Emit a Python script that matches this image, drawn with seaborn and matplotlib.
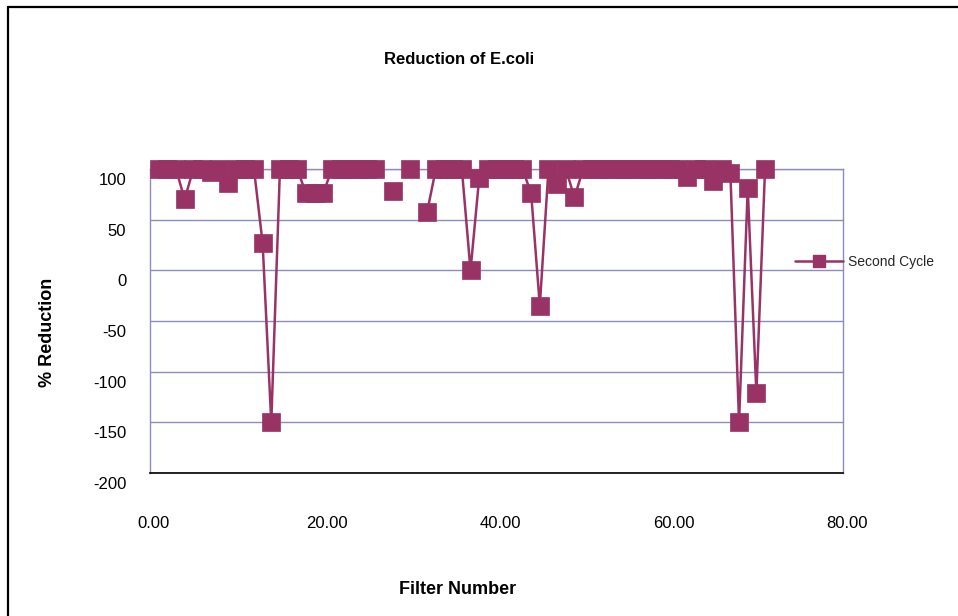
import numpy as np
import pandas as pd
import seaborn as sns
import matplotlib.pyplot as plt
from matplotlib.lines import Line2D
from matplotlib.transforms import ScaledTranslation

# ---- data ----
filter_number = [1, 2, 3, 4, 5, 6, 7, 8, 9, 10,
                 11, 12, 13, 14, 15, 16, 17, 18, 19, 20,
                 21, 22, 23, 24, 25, 26, 27, 28, 29, 30,
                 31, 32, 33, 34, 35, 36, 37, 38, 39, 40,
                 41, 42, 43, 44, 45, 46, 47, 48, 49, 50,
                 51, 52, 53, 54, 55, 56, 57, 58, 59, 60,
                 61, 62, 63, 64, 65, 66, 67, 68, 69, 70,
                 71]
reduction = [100, 100, 100, 70, 100, 100, 97, 100, 86, 100,
             100, 100, 27, -150, 100, 100, 100, 76, 76, 76,
             100, 100, 100, 100, 100, 100, np.nan, 78, np.nan, 100,
             np.nan, 58, 100, 100, 100, 100, 0, 91, 100, 100,
             100, 100, 100, 76, -35, 100, 85, 100, 72, 100,
             100, 100, 100, 100, 100, 100, 100, 100, 100, 100,
             100, 92, 100, 100, 88, 100, 96, -150, 81, -121,
             100]
series_name = "Second Cycle"
x_ticks = [0, 20, 40, 60, 80]
y_ticks = [-200, -150, -100, -50, 0, 50, 100]
title = "Reduction of E.coli"
x_label = "Filter Number"
y_label = "% Reduction"

# ---- style ----
sns.set_theme(style="white")
plt.rcParams['font.family'] = ['Liberation Sans', 'DejaVu Sans']

color = '#993366'
grid_color = '#8c8cc0'

df = pd.DataFrame({'Filter': filter_number, 'Reduction': reduction})
df['seg'] = df['Reduction'].isna().cumsum()
df = df.dropna()

W, H = 958, 616
fig = plt.figure(figsize=(W / 100, H / 100), dpi=100)
fig.patch.set_facecolor('white')
ax = fig.add_axes([150 / W, 1 - 473 / H, 693 / W, 304 / H])

sns.lineplot(data=df, x='Filter', y='Reduction', units='seg', estimator=None,
             color=color, marker='s', markersize=13.3, markeredgecolor=color,
             markeredgewidth=0.5, linewidth=1.8, ax=ax, legend=False,
             clip_on=False, zorder=3)

ax.set_xlim(0, 80)
ax.set_ylim(-200, 100)
ax.set_xticks(x_ticks)
ax.set_xticklabels([f"{t:.2f}" for t in x_ticks])
ax.set_yticks(y_ticks)
ax.set_yticklabels([str(t) for t in y_ticks])
ax.set_xlabel('')
ax.set_ylabel('')
ax.grid(False)
ax.yaxis.grid(True, color=grid_color, linewidth=1.0)
ax.set_axisbelow(True)
for side in ['left', 'top', 'right']:
    ax.spines[side].set_color(grid_color)
    ax.spines[side].set_linewidth(1.0)
ax.spines['bottom'].set_color('black')
ax.spines['bottom'].set_linewidth(1.2)

ax.tick_params(axis='x', length=0, pad=31, labelsize=12, labelcolor='black')
ax.tick_params(axis='y', length=0, pad=17, labelsize=12, labelcolor='black')

# y tick labels sit slightly below their gridlines in the reference
off_y = ScaledTranslation(0, -10 / 100, fig.dpi_scale_trans)
for t in ax.yaxis.get_major_ticks():
    t.label1.set_transform(t.label1.get_transform() + off_y)
off_x = ScaledTranslation(4 / 100, 0, fig.dpi_scale_trans)
for t in ax.xaxis.get_major_ticks():
    t.label1.set_transform(t.label1.get_transform() + off_x)

# titles
fig.text(459 / W, 1 - 60 / H, title, ha='center', va='center',
         fontsize=12, fontweight='bold', color='black')
fig.text(458 / W, 1 - 590 / H, x_label, ha='center', va='center',
         fontsize=13, fontweight='bold', color='black')
fig.text(47 / W, 1 - 332 / H, y_label, ha='center', va='center',
         rotation=90, fontsize=13, fontweight='bold', color='black')

# legend
handle = Line2D([], [], color=color, marker='s', markersize=8.4,
                markeredgecolor=color, linewidth=1.8)
fig.legend(handles=[handle], labels=[series_name], loc='center left',
           bbox_to_anchor=(795 / W, 1 - 262 / H), frameon=False, fontsize=10,
           handlelength=3.45, handletextpad=0.4, borderpad=0, borderaxespad=0)

# outer chart frame (left and top edges visible)
fig.add_artist(Line2D([8 / W, 8 / W], [0, 1 - 7 / H], transform=fig.transFigure,
                      color='black', linewidth=1.6))
fig.add_artist(Line2D([8 / W, 1], [1 - 7 / H, 1 - 7 / H], transform=fig.transFigure,
                      color='black', linewidth=1.6))

fig.savefig('out.png', dpi=100)
